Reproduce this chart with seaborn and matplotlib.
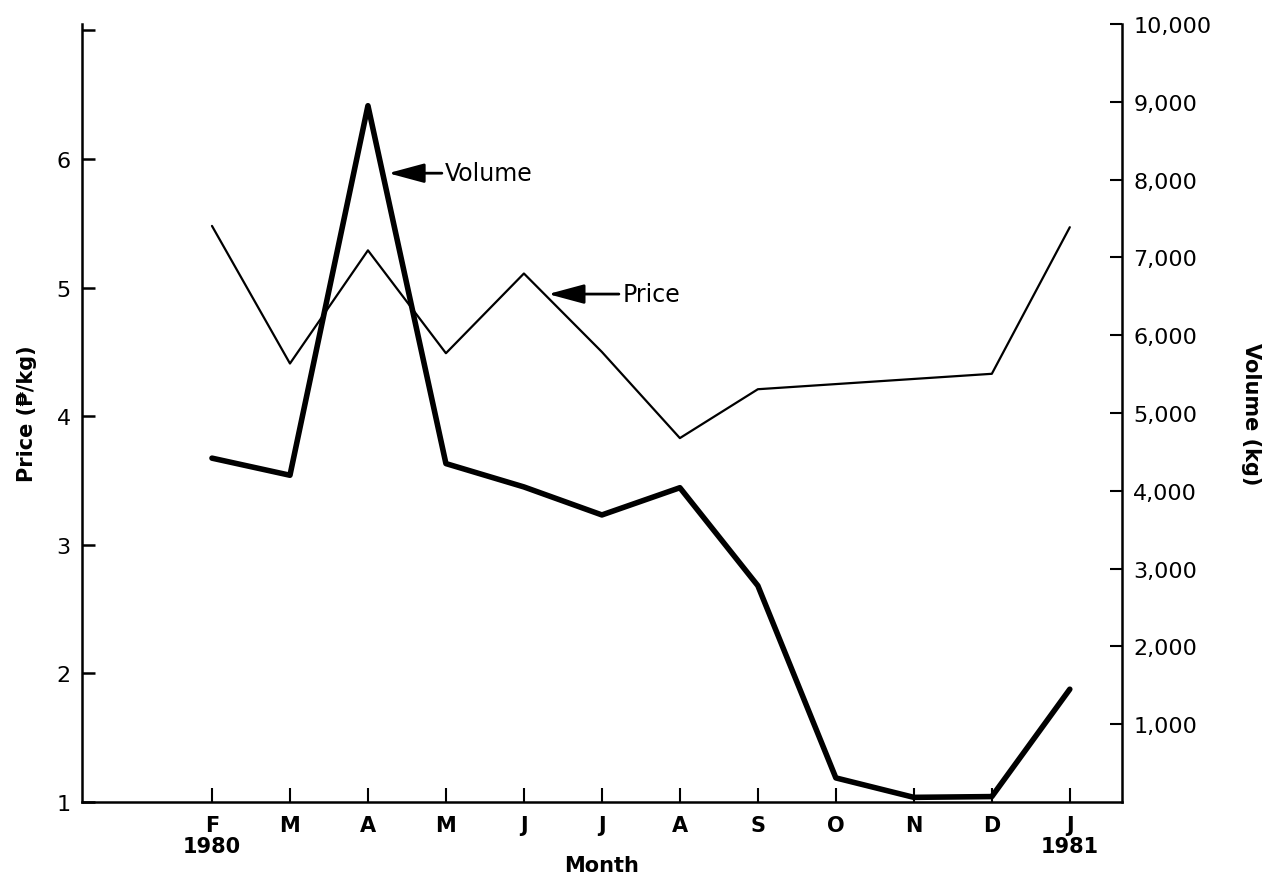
import matplotlib
matplotlib.use("Agg")
import matplotlib.pyplot as plt
import seaborn as sns
import numpy as np

months = ["F\n1980", "M", "A", "M", "J", "J", "A", "S", "O", "N", "D", "J\n1981"]
price = [5.48, 4.41, 5.29, 4.49, 5.11, 4.50, 3.83, 4.21, 4.25, 4.29, 4.33, 5.47]
volume = [4420, 4200, 8950, 4350, 4050, 3690, 4040, 2780, 310, 60, 70, 1450]
price_ticks = [1, 2, 3, 4, 5, 6, 7]
price_labels = ["1", "2", "3", "4", "5", "6", ""]
volume_ticks = [1000, 2000, 3000, 4000, 5000, 6000, 7000, 8000, 9000, 10000]
volume_labels = ["1,000", "2,000", "3,000", "4,000", "5,000", "6,000",
                 "7,000", "8,000", "9,000", "10,000"]

sns.set_style("ticks")
plt.rcParams["font.family"] = ["DejaVu Sans"]
plt.rcParams["text.color"] = "black"
plt.rcParams["axes.labelcolor"] = "black"

fig = plt.figure(figsize=(12.65, 8.78), dpi=100)
ax = fig.add_axes([0.0648, 0.0854, 0.8222, 0.8861])
ax2 = ax.twinx()

idx = np.arange(len(months))
sns.lineplot(x=idx, y=price, ax=ax, color="black", linewidth=1.6)
sns.lineplot(x=idx, y=volume, ax=ax2, color="black", linewidth=4.0)

ax.set_xlim(-1.667, 11.67)
ax.set_ylim(1, 7.05)
ax2.set_ylim(0, 10000)

ax.set_xticks(idx)
ax.set_xticklabels(months, fontsize=15, fontweight="semibold", linespacing=1.1)
ax.set_yticks(price_ticks)
ax.set_yticklabels(price_labels, fontsize=16)
ax2.set_yticks(volume_ticks)
ax2.set_yticklabels(volume_labels, fontsize=16)

for a in (ax, ax2):
    a.spines["top"].set_visible(False)
    for s in a.spines.values():
        s.set_linewidth(1.8)
        s.set_color("black")
ax.spines["right"].set_visible(False)
ax2.spines["left"].set_visible(False)
ax2.spines["bottom"].set_visible(False)

ax.tick_params(axis="y", direction="in", length=9, width=1.8, pad=8, colors="black")
ax.tick_params(axis="x", direction="in", length=10, width=1.5, pad=9, colors="black")
ax2.tick_params(axis="y", direction="in", length=9, width=1.5, pad=8, colors="black")

ax.set_xlabel("Month", fontsize=15, fontweight="bold", labelpad=-1)
ax.set_ylabel("Price (\u20b1/kg)", fontsize=15, fontweight="bold", labelpad=14)
ax2.set_ylabel("Volume (kg)", fontsize=15, fontweight="bold", rotation=270, labelpad=36)

arrow = dict(arrowstyle="-|>,head_length=1.3,head_width=0.35", color="black",
             linewidth=2.0, shrinkA=0, shrinkB=0)
ax.annotate("Volume", xy=(2.26, 5.89), xytext=(2.99, 5.89), fontsize=17,
            va="center", ha="left", arrowprops=arrow)
ax.annotate("Price", xy=(4.31, 4.95), xytext=(5.26, 4.95), fontsize=17,
            va="center", ha="left", arrowprops=arrow)

fig.savefig("out.png", dpi=100)
